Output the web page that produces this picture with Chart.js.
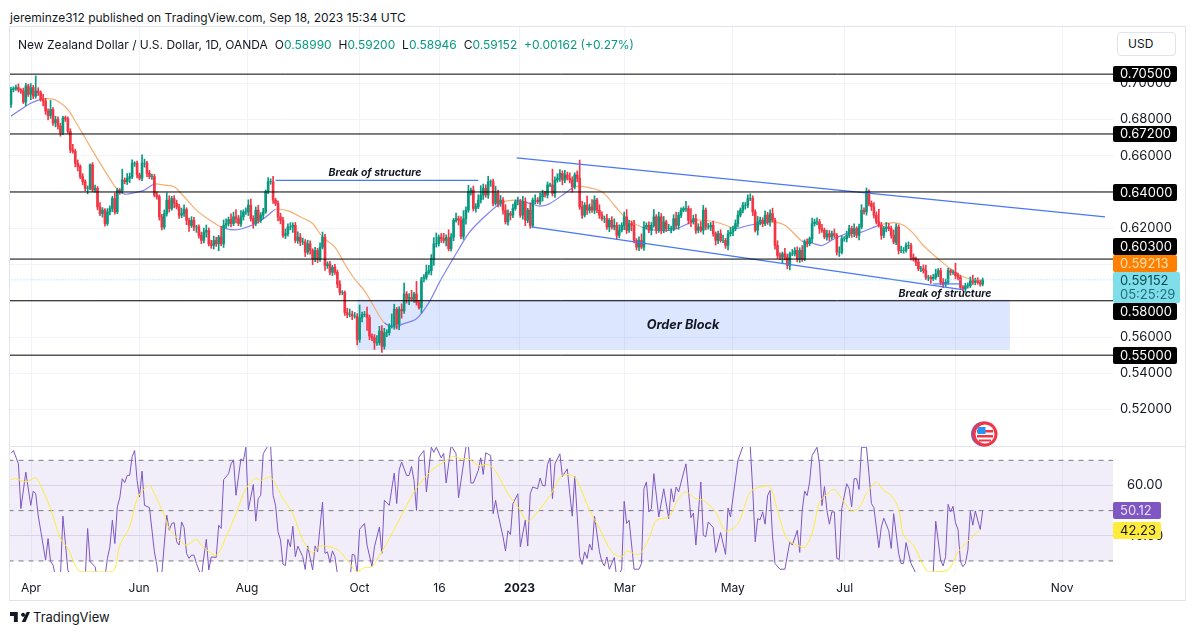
<!DOCTYPE html>
<html>
<head>
<meta charset="utf-8">
<title>NZDUSD</title>
<script src="https://cdn.jsdelivr.net/npm/chart.js@4"></script>
<style>
    body { margin: 0; background: #fff; width: 1195px; height: 635px; overflow: hidden; position: relative; font-family: Inter, Roboto, sans-serif; color: #131722; }
    canvas { position: absolute; left: 10px; }
    #chartPrice { top: 27px; }
    #chartRsi { top: 446px; }
    .frame { position: absolute; left: 9px; top: 26px; width: 1175px; height: 573px; border: 1px solid #e0e3eb; pointer-events: none; }
    .divider { position: absolute; left: 10px; top: 446px; width: 1175px; height: 1px; background: #e0e3eb; }
    #publisher { position: absolute; left: 10px; top: 10px; font-size: 12px; white-space: nowrap; }
    #legend { position: absolute; left: 18px; top: 37px; font-size: 12px; white-space: nowrap; }
    #legend b { font-weight: 400; color: #089981; }
    #legend span { margin-left: 3.5px; }
    #usd { position: absolute; left: 1117px; top: 32px; width: 47px; height: 22px; line-height: 22px; padding-left: 10px; border: 1px solid #e0e3eb; border-radius: 4px; font-size: 12px; background: #fff; }
    #flag { position: absolute; left: 970px; top: 421px; }
    #logo { position: absolute; left: 10px; top: 611px; }
    #brand { position: absolute; left: 33px; top: 609px; font-size: 13px; }
</style>
</head>
<body>
<div id="publisher">jereminze312 published on TradingView.com, Sep 18, 2023 15:34 UTC</div>
<canvas id="chartPrice" width="1175" height="419"></canvas>
<canvas id="chartRsi" width="1175" height="154"></canvas>
<div class="frame"></div>
<div class="divider"></div>
<div id="legend">New Zealand Dollar / U.S. Dollar, 1D, OANDA <span>O<b>0.58990</b></span> <span>H<b>0.59200</b></span> <span>L<b>0.58946</b></span> <span>C<b>0.59152</b></span> <span><b>+0.00162 (+0.27%)</b></span></div>
<div id="usd">USD</div>
<svg id="flag" width="30" height="26" viewBox="0 0 30 26">
    <circle cx="13.5" cy="13" r="12.5" fill="#7e57c2"/>
    <circle cx="15" cy="13" r="12.5" fill="#f23645"/>
    <circle cx="15" cy="13" r="9.5" fill="#fff"/>
    <rect x="7" y="9" width="16" height="2.5" fill="#f23645"/>
    <rect x="7" y="14" width="16" height="2.5" fill="#f23645"/>
    <rect x="9" y="18.5" width="12" height="2" fill="#f23645"/>
    <rect x="7.5" y="6" width="8" height="7" fill="#2196f3"/>
</svg>
<svg id="logo" width="20" height="12" viewBox="0 0 36 20"><path d="M0 1h14v18H7V8H0zM30 1h6l-8 18h-7zM20 6a3.5 3.5 0 1 0 0-.01z" fill="#131722"/></svg>
<div id="brand">TradingView</div>
<script>
// daily closes in pips
const firstOpenPips = 6883;
const closePips = [
    6966,6970,6976,6963,6957,6896,6985,6939,6976,6929,6957,6948,6911,6901,6846,6822,6855,6781,6800,6763,
    6726,6809,6803,6735,6633,6624,6559,6540,6485,6457,6420,6420,6550,6411,6420,6318,6281,6300,6226,6290,
    6309,6364,6290,6411,6407,6466,6457,6476,6485,6559,6559,6494,6476,6559,6559,6503,6485,6485,6383,6374,
    6263,6207,6281,6355,6309,6364,6337,6318,6272,6281,6303,6244,6216,6244,6207,6207,6161,6133,6179,6188,
    6114,6105,6133,6114,6151,6114,6216,6226,6248,6226,6263,6253,6226,6263,6290,6290,6327,6253,6226,6300,
    6244,6272,6290,6401,6457,6457,6355,6337,6263,6244,6161,6170,6207,6207,6216,6133,6151,6124,6124,6068,
    6114,6077,6031,6077,6031,6096,6151,5994,6003,5957,5985,5957,5892,5846,5846,5735,5725,5725,5716,5716,
    5587,5707,5725,5725,5707,5605,5596,5568,5568,5633,5549,5624,5624,5661,5661,5753,5670,5753,
    5744,5837,5809,5818,5809,5837,5790,5763,5920,5929,5957,5966,6031,6114,6114,6151,6142,6133,6148,6087,
    6151,6244,6253,6244,6155,6253,6300,6401,6411,6309,6318,6355,6383,6420,6383,6457,6457,6337,6392,6337,
    6355,6300,6235,6281,6272,6309,6346,6346,6272,6346,6244,6300,6216,6355,6355,6346,6374,6392,6383,6439,
    6439,6392,6466,6476,6503,6466,6494,6476,6466,6429,6494,6476,6318,6272,6327,6300,6318,6300,6355,6300,
    6272,6253,6253,6207,6244,6207,6216,6161,6189,6216,6263,6189,6226,6216,6133,6096,6133,6096,6207,6216,
    6189,6216,6263,6189,6263,6189,6235,6198,6198,6198,6253,6216,6272,6300,6309,6309,6244,6235,6253,6189,
    6207,6189,6300,6207,6207,6216,6170,6133,6170,6133,6133,6105,6170,6179,6198,6226,6272,6300,6327,6327,
    6364,6364,6290,6189,6235,6244,6226,6272,6235,6281,6244,6105,6050,6040,6059,6040,5994,6059,6059,6077,6031,
    6078,6031,6124,6115,6142,6226,6235,6235,6198,6189,6152,6170,6152,6170,6161,6068,6068,6142,6142,6161,
    6198,6170,6198,6161,6207,6300,6290,6402,6337,6318,6272,6235,6216,6161,6198,6207,6198,6161,6124,6207,
    6078,6078,6078,6105,6105,6040,6031,6013,5976,5976,5966,5929,5929,5920,5929,5948,5966,5902,5892,5902,
    5966,5957,5957,5939,5929,5874,5865,5883,5883,5911,5902,5911,5902,5892,5915
];
const upperWickPips = [
    12,10,14,20,8,16,14,10,22,12,83,18,10,28,16,12,50,10,18,14,
    16,8,10,12,14,30,12,18,10,16,10,14,6,12,18,10,24,14,8,18,
    14,12,30,10,8,60,12,26,20,18,8,12,10,46,22,10,16,14,12,18,
    10,14,20,40,24,12,16,18,14,30,26,10,12,20,16,10,12,18,22,30,
    14,20,24,18,10,60,30,26,14,32,26,40,18,34,12,22,30,34,16,18,
    26,14,20,10,22,16,30,10,14,20,16,26,18,24,14,16,30,20,22,14,
    20,16,10,18,12,24,28,16,12,14,10,16,12,20,10,8,24,30,18,20,
    14,70,12,16,40,14,12,18,40,26,30,24,16,12,66,28,10,14,
    30,60,14,22,40,10,70,12,10,16,40,30,24,34,60,12,20,30,16,44,
    20,10,30,14,20,44,18,36,10,22,18,30,52,24,20,30,10,14,40,18,
    26,14,30,20,12,24,10,26,14,30,22,10,40,12,30,14,20,18,12,16,
    10,87,18,24,20,14,26,16,30,18,12,22,100,30,14,50,16,40,24,10,
    30,18,14,24,10,20,36,16,30,14,26,40,18,14,28,10,20,36,30,14,
    20,16,40,12,26,18,30,10,24,14,22,36,16,12,10,40,14,65,20,24,
    18,30,26,12,20,16,24,10,14,22,30,12,18,26,14,20,24,12,16,15,
    20,26,15,12,30,18,14,24,16,20,30,12,26,14,10,30,18,10,24,16,
    20,14,26,12,18,10,30,16,22,14,24,12,20,18,14,26,10,30,16,12,
    22,18,14,26,10,16,30,12,20,10,14,24,18,70,16,12,26,20,14,30,
    18,12,24,16,14,20,12,18,10,16,14,22,30,12,10,16,26,12,14,20,
    18,14,10,12,50,14,12,10,14,16,20,30,14,16,12,10
];
const lowerWickPips = [
    16,14,10,12,14,8,20,12,30,14,12,16,10,26,18,24,16,14,22,16,
    18,10,14,12,16,10,20,24,12,18,14,30,8,10,12,16,12,20,14,10,
    16,18,12,10,20,14,12,16,24,12,18,16,10,14,22,18,12,16,10,14,
    18,16,12,14,20,10,24,12,18,14,16,24,34,12,20,30,16,18,14,28,
    12,16,20,14,38,12,20,16,14,18,12,24,12,16,18,14,20,14,26,12,
    16,12,20,8,10,14,18,12,22,20,12,18,14,16,30,12,16,20,14,24,
    12,20,32,16,20,14,10,26,16,14,18,12,20,14,12,16,18,14,20,12,
    30,16,24,12,70,20,16,36,14,12,34,16,22,14,12,18,26,30,
    40,14,22,30,12,18,14,10,30,16,14,12,24,36,18,12,20,14,30,12,
    14,20,10,26,12,16,30,12,18,14,20,10,16,24,12,18,26,14,10,20,
    16,22,12,18,26,14,10,18,12,22,30,14,16,12,20,10,14,24,12,16,
    10,14,22,12,18,26,14,10,16,30,12,20,14,18,10,24,16,12,20,14,
    18,10,22,14,26,12,16,20,14,10,24,18,12,30,14,16,20,10,18,12,
    14,26,10,18,12,20,14,16,10,24,12,18,22,14,10,16,20,26,12,18,
    14,10,22,16,12,20,14,26,18,10,12,16,24,14,20,12,18,10,16,22,
    14,12,20,10,26,16,18,12,14,24,10,20,16,12,30,14,18,24,10,12,
    16,20,14,10,18,12,22,14,16,26,12,10,18,20,14,12,16,24,10,14,
    18,12,20,16,14,26,10,12,18,14,20,16,12,10,22,14,18,12,16,10,
    14,20,12,16,10,18,14,12,20,10,16,14,12,18,24,10,12,16,14,20,
    14,10,16,12,18,14,10,12,16,14,10,12,14,10,12,10
];

// moving average, vertices of the drawn line; blue in the ranges below
const maBars = [0,4,8,12,16,19,23,26,30,34,39,43,46,50,54,58,62,66,70,75,80,85,89,93,99,104,107,112,117,122,126,131,135,139,143,147,151,156,
    158,164,169,174,180,185,190,198,204,210,214,218,224,228,232,239,244,249,255,261,268,274,277,283,288,293,297,301,307,313,320,
    324,328,333,338,344,351,357,361,365,369,375,380,384,388,393];
const maPips = [6818,6855,6889,6911,6914,6901,6855,6790,6698,6605,6494,6414,6388,6396,6411,6444,6438,6429,6374,6300,6248,6207,6192,6196,6226,6272,6305,6296,6263,6226,6151,6096,6003,5920,5855,5763,5679,5655,
    5670,5701,5790,5920,6059,6170,6244,6337,6355,6337,6322,6337,6392,6429,6429,6401,6327,6253,6207,6189,6192,6226,6244,6240,6222,6198,6211,6222,6235,6216,6129,
    6118,6105,6142,6170,6179,6216,6231,6216,6170,6105,6031,5976,5939,5920,5911];
const maBlueRanges = [[0,12],[43,58],[85,107],[151,198],[204,228],[255,277],[293,307],[320,351]];

// drawn levels and lines
const levelPrices = [0.705,0.672,0.64,0.603,0.58,0.55];
const lastPrice = 0.59152;
const breakLineBars = [107,189];
const breakLinePrices = [0.6464,0.6464];
const breakLine2Bars = [373,384];
const breakLine2Prices = [0.5893,0.5893];
const channelTopBars = [204.5,442.5];
const channelTopPrices = [0.6588,0.6263];
const channelLowBars = [210.5,385.4];
const channelLowPrices = [0.6208,0.5860];
const orderBlockBars = [140,404];
const orderBlockPrices = [0.5806,0.5528];

const priceTicks = [0.52,0.54,0.56,0.58,0.60,0.62,0.64,0.66,0.68,0.70];
const monthBars = [8.1,51.8,95.5,140.9,173.3,205.7,248.2,291.9,337.2,381.8,425.1];
const monthLabels = ['Apr','Jun','Aug','Oct','16','2023','Mar','May','Jul','Sep','Nov'];

// RSI, vertices of the drawn line
const rsiBars = [0,1,3,4,6,8,9,10,11,14,15,16,17,18,20,21,23,25,30,31,32,34,35,38,39,40,41,42,43,44,45,46,47,48,49,50,51,52,53,54,56,58,59,60,61,63,64,65,66,67,68,69,70,71,72,73,74,75,77,78,79,80,81,83,84,85,86,88,89,90,91,93,94,95,96,98,99,100,101,102,104,105,106,107,108,109,110,111,112,113,114,115,116,118,119,120,122,123,124,126,127,128,129,130,131,132,134,137,138,139,140,141,143,144,146,147,149,150,151,153,154,155,156,157,
    158,160,161,162,163,164,165,167,168,170,171,172,174,175,176,178,180,181,184,185,186,187,189,190,191,192,194,195,196,197,199,200,201,202,203,205,206,208,209,210,211,213,214,215,216,217,218,219,220,222,223,225,226,227,228,229,230,231,232,233,234,235,236,238,239,240,241,242,244,245,247,248,249,250,252,254,255,256,257,258,259,260,262,264,266,267,268,269,270,272,273,275,276,277,279,280,281,282,284,285,287,289,290,291,294,296,299,300,301,302,303,304,305,306,307,308,309,311,313,315,316,318,319,
    320,321,322,323,324,326,327,328,329,330,331,332,333,334,335,336,338,339,340,341,342,343,344,346,347,348,349,351,352,353,355,356,357,359,360,361,362,364,366,373,374,376,377,378,379,380,381,382,383,384,385,386,387,388,389,390,392,393];
const rsiValues = [72.8,73.9,68.6,50.8,65.3,52.1,57.8,56.7,48.2,30.3,38.9,29.7,28.4,23.7,23.7,47.8,26.4,22.4,23,42.9,29.7,27.7,22.4,23.7,31,35.6,46.2,36.9,51.5,55.1,62.7,61.1,64,64,71.5,73.9,62,55.4,65.7,52.1,51.2,33.6,28.4,20,25,48.2,42.2,44.9,45.2,37.6,36.3,45.5,43.3,33,31,32.3,32.3,29,23.7,31.6,38.6,26.4,31.6,31.4,44.2,42.9,62.3,64.7,68.6,70.2,56.1,70.6,69.7,75.2,50.4,60.4,45.8,54.8,56.1,72.6,75.9,75.9,56.1,52.1,41.6,38.3,28.7,28.2,38.6,35.6,43.8,31.7,35.9,31.7,26.6,36,26.4,36,33.6,53.4,33,33.6,29.3,34,31.7,25,20,21,32.6,32.3,25,42.6,44.9,36.3,27.7,35.6,43.5,33,54.1,52.1,58.7,64.9,52.8,66.2,
    69.3,64,64,67.6,62,50.1,71.3,73.9,57.4,75.2,73.2,75.2,71,72.8,61,75.9,72.6,55.1,75.2,76,61,61,66,71,64.4,73,71.9,48.8,54.1,48.5,39.6,34,42,40.5,52.8,56.7,35.6,46.2,35.9,56.7,59.4,58.7,63,60,59.8,68.3,71,54.8,68.6,72.6,63.6,66.6,56.7,47.8,63.6,48.2,31.7,28.6,33.6,31,36.7,34.3,47.8,33.6,29.7,28,31.6,26.7,31.4,23,26.7,53.7,44.9,46.2,26.7,26.7,29,58.7,61.4,49.5,50.8,64.7,47.5,58.7,46.8,58.7,53.4,59.4,57.4,65,68.6,47.2,49,36.3,61.4,40.2,39.6,45.5,43.3,33.4,41.3,32.6,51,47.5,70,75.5,75.5,58,37.6,46.8,46.4,49.5,44.6,56,58,39.6,29,26.7,26.7,37.6,36.3,42.2,33.4,
    50,57.8,56,61.4,71.9,75.2,68.6,52,59.6,50,44.6,49.5,49.5,31,30.6,50.8,60.7,58.7,51.5,62.7,62.7,58.4,75.2,75.2,64.7,52.8,51.2,35.3,43.5,47,42,35,48.8,33,29,29,37.3,29,25,25,45.8,30.3,28,31.7,52.5,49.5,51.7,45.2,42.6,29.7,27.7,29,34.3,49.7,44.2,49.9,42.5,50.1];
const rsiMaBars = [0,2,6,10,12,16,20,23,28,41,44,48,51,54,56,58,62,64,68,71,75,77,83,87,91,95,99,101,105,110,114,118,122,125,132,136,140,143,146,153,157,
    163,170,175,179,182,185,189,193,196,201,205,209,213,218,223,228,234,238,243,247,249,254,258,261,266,270,273,277,280,285,289,294,299,303,307,310,314,319,
    321,324,327,330,333,336,340,343,346,350,353,356,359,361,365,371,379,383,388,392];
const rsiMaValues = [62.3,62.7,61.4,63,60,50.8,38.9,35,25.7,25.7,36.3,43.5,54.8,58.7,60,56.7,48.2,42.9,38.3,36.3,38.6,36.3,32.3,39.6,48.8,58.7,62.9,62,63.3,54.8,48.8,38.3,33.2,35.9,34.6,30.3,25.7,27.4,27.7,38.9,46.2,
    57.4,66,69.3,71.6,70.6,70.6,68,68.3,65.7,56.7,51.5,45.8,49.5,56,64,63.3,50.1,42.9,33.6,31.6,33.9,32.6,38.9,46.2,47.5,54.8,57.4,54.8,54.1,49.5,41.9,44.9,57.4,59.4,59.4,50.1,38.5,35.9,
    35.3,40.9,53.4,56.5,58.4,54.8,49.9,51.2,56.7,61.4,58,56,50.8,40.2,36.3,25.7,26.4,33.6,38.9,42.5];
const rsiLevels = [70,50,30];
const rsiTicks = [40,60];

const UP = '#089981', DOWN = '#f23645';
const GRID = '#f0f3fa';

// build the candles from the arrays above
const bodies = [], wicks = [], candleColors = [];
closePips.forEach((c, i) => {
    const o = i === 0 ? firstOpenPips : closePips[i - 1];
    const top = Math.max(o, c), bottom = Math.min(o, c);
    bodies.push({ x: i, y: [o / 10000, c / 10000] });
    wicks.push({ x: i, y: [(bottom - lowerWickPips[i]) / 10000, (top + upperWickPips[i]) / 10000] });
    candleColors.push(c >= o ? UP : DOWN);
});

function pairs(xs, ys) {
    return xs.map((x, i) => ({ x: x, y: ys[i] }));
}

function flatLine(value) {
    return [{ x: -1, y: value }, { x: 446, y: value }];
}

function maIsBlue(bar) {
    return maBlueRanges.some(r => bar >= r[0] && bar < r[1]);
}

function blueLine(xs, ys) {
    return { type: 'line', data: pairs(xs, ys), borderColor: '#4a78f5', borderWidth: 1.2, pointRadius: 0, order: 0 };
}

// edge tick labels should not shrink the plot
function noAxisPadding(axis) {
    axis.paddingTop = 0;
    axis.paddingBottom = 0;
    axis.paddingLeft = 0;
    axis.paddingRight = 0;
}

const xAxisBase = {
    type: 'linear',
    min: -0.4,
    max: 445.7,
    offset: false,
    afterBuildTicks: axis => { axis.ticks = monthBars.map(v => ({ value: v })); },
    grid: { color: GRID, drawTicks: false, offset: false }
};

// order block goes under the candles
const orderBlockPlugin = {
    id: 'orderBlock',
    beforeDatasetsDraw(chart) {
        const { x, y } = chart.scales;
        const left = x.getPixelForValue(orderBlockBars[0]), right = x.getPixelForValue(orderBlockBars[1]);
        const top = y.getPixelForValue(orderBlockPrices[0]), bottom = y.getPixelForValue(orderBlockPrices[1]);
        chart.ctx.fillStyle = 'rgba(41,98,255,0.16)';
        chart.ctx.fillRect(left, top, right - left, bottom - top);
    }
};

function drawBox(ctx, text, top, h, bg, fg, w) {
    ctx.fillStyle = bg;
    ctx.beginPath();
    ctx.roundRect(1103, top, w || 64, h, 2);
    ctx.fill();
    ctx.fillStyle = fg;
    ctx.textAlign = 'left';
    ctx.textBaseline = 'middle';
    ctx.font = '13px Inter';
    ctx.fillText(text, 1110, top + h / 2 + 0.5);
}

const priceLabelsPlugin = {
    id: 'priceLabels',
    afterDraw(chart) {
        const ctx = chart.ctx;
        ctx.save();
        ctx.fillStyle = '#131722';
        ctx.font = 'italic bold 10.5px Inter';
        ctx.textAlign = 'center';
        ctx.textBaseline = 'middle';
        ctx.fillText('Break of structure', 365, 146);
        ctx.fillText('Break of structure', 935, 267);
        ctx.font = 'italic bold 12.7px Inter';
        ctx.fillText('Order Block', 673, 298);
        drawBox(ctx, '0.70500', 39, 16, '#000', '#fff');
        drawBox(ctx, '0.67200', 99, 16, '#000', '#fff');
        drawBox(ctx, '0.64000', 157, 17, '#000', '#fff');
        drawBox(ctx, '0.60300', 211, 17, '#000', '#fff');
        drawBox(ctx, '0.59213', 228, 17, '#ff8000', '#ffe0b2');
        ctx.fillStyle = '#80deea';
        ctx.beginPath();
        ctx.roundRect(1103, 245, 67, 31, 2);
        ctx.fill();
        ctx.textAlign = 'left';
        ctx.font = '13px Inter';
        ctx.fillStyle = '#0a4a55';
        ctx.fillText('0.59152', 1110, 254);
        ctx.fillStyle = '#1f6f7c';
        ctx.fillText('05:25:29', 1110, 268);
        drawBox(ctx, '0.58000', 276, 17, '#000', '#fff');
        drawBox(ctx, '0.55000', 320, 17, '#000', '#fff');
        ctx.restore();
    }
};

new Chart(document.getElementById('chartPrice').getContext('2d'), {
    type: 'bar',
    data: {
        datasets: levelPrices.map(p => ({ type: 'line', data: flatLine(p), borderColor: '#000', borderWidth: 1, pointRadius: 0, order: 0 })).concat([
            { type: 'line', data: flatLine(lastPrice), borderColor: '#80deea', borderWidth: 1, borderDash: [1, 2], pointRadius: 0, order: 0 },
            blueLine(breakLineBars, breakLinePrices),
            blueLine(breakLine2Bars, breakLine2Prices),
            blueLine(channelTopBars, channelTopPrices),
            blueLine(channelLowBars, channelLowPrices),
            {
                type: 'line',
                data: pairs(maBars, maPips.map(v => v / 10000)),
                borderWidth: 1.2,
                pointRadius: 0,
                tension: 0.3,
                order: 3,
                borderColor: '#ffb74d',
                segment: { borderColor: ctx => maIsBlue(ctx.p0.parsed.x) ? '#7f7ff5' : '#f7ae6e' }
            },
            { type: 'bar', data: bodies, backgroundColor: candleColors, barThickness: 2, grouped: false, order: 1 },
            { type: 'bar', data: wicks, backgroundColor: candleColors, barThickness: 1, grouped: false, order: 2 }
        ])
    },
    options: {
        responsive: false,
        animation: false,
        events: [],
        layout: { padding: 0 },
        plugins: { legend: { display: false }, tooltip: { enabled: false } },
        scales: {
            x: { ...xAxisBase, border: { display: false }, ticks: { display: false }, afterFit: noAxisPadding },
            y: {
                position: 'right',
                min: 0.4999,
                max: 0.7310,
                afterFit: axis => { axis.width = 72; noAxisPadding(axis); },
                afterBuildTicks: axis => { axis.ticks = priceTicks.map(v => ({ value: v })); },
                border: { display: false },
                grid: { color: GRID, drawTicks: false },
                ticks: { color: '#131722', font: { size: 13, family: 'Inter' }, padding: 7, callback: v => v.toFixed(5) }
            }
        }
    },
    plugins: [orderBlockPlugin, priceLabelsPlugin]
});

// RSI pane
const rsiBandPlugin = {
    id: 'rsiBand',
    beforeDatasetsDraw(chart) {
        const { y } = chart.scales;
        const area = chart.chartArea;
        const top = y.getPixelForValue(rsiLevels[0]), bottom = y.getPixelForValue(rsiLevels[2]);
        chart.ctx.fillStyle = 'rgba(126,87,194,0.1)';
        chart.ctx.fillRect(area.left, top, area.right - area.left, bottom - top);
    },
    afterDraw(chart) {
        const ctx = chart.ctx;
        ctx.save();
        drawBox(ctx, '50.12', 56, 17, '#7e57c2', '#e8e0f7', 48);
        drawBox(ctx, '42.23', 76, 17, '#ffeb3b', '#131722', 48);
        ctx.restore();
    }
};

new Chart(document.getElementById('chartRsi').getContext('2d'), {
    type: 'line',
    data: {
        datasets: [
            { data: pairs(rsiBars, rsiValues), borderColor: '#7e57c2', borderWidth: 1, pointRadius: 0, order: 1 },
            { data: pairs(rsiMaBars, rsiMaValues), borderColor: '#ffeb3b', borderWidth: 1, pointRadius: 0, tension: 0.3, order: 0 }
        ].concat(rsiLevels.map(v => ({ data: flatLine(v), borderColor: '#787b86', borderWidth: 1, borderDash: [5, 5], pointRadius: 0, order: 2 })))
    },
    options: {
        responsive: false,
        animation: false,
        events: [],
        layout: { padding: 0 },
        plugins: { legend: { display: false }, tooltip: { enabled: false } },
        scales: {
            x: {
                ...xAxisBase,
                border: { display: false },
                afterFit: axis => { axis.height = 28; noAxisPadding(axis); },
                ticks: {
                    color: '#131722',
                    padding: 9,
                    maxRotation: 0,
                    autoSkip: false,
                    font: ctx => ({ size: 12, family: 'Inter', weight: ctx.index === 5 ? 'bold' : 'normal' }),
                    callback: (v, i) => monthLabels[i]
                }
            },
            y: {
                position: 'right',
                min: 25.6,
                max: 75.7,
                afterFit: axis => { axis.width = 72; noAxisPadding(axis); },
                afterBuildTicks: axis => { axis.ticks = rsiTicks.map(v => ({ value: v })); },
                border: { display: false },
                grid: { color: '#e4e2ee', drawTicks: false },
                ticks: { color: '#131722', font: { size: 13, family: 'Inter' }, padding: 14, callback: v => v.toFixed(2) }
            }
        }
    },
    plugins: [rsiBandPlugin]
});
</script>
</body>
</html>
